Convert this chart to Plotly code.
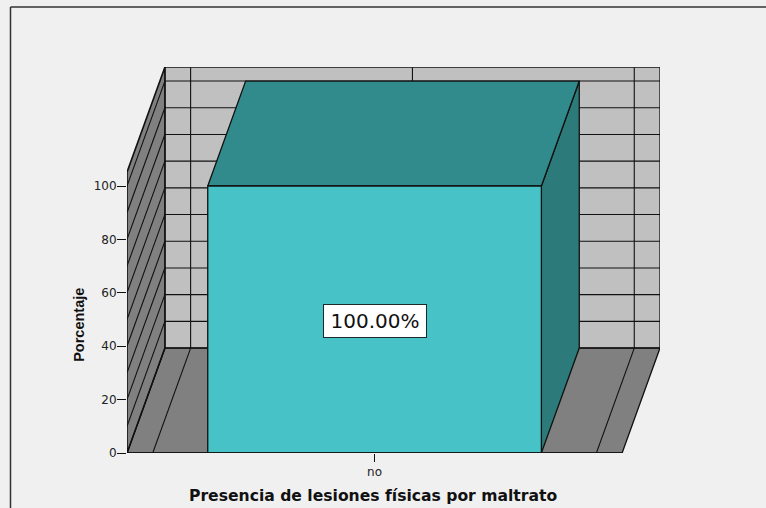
import plotly.graph_objects as go

categories = ["no"]
percentages = [100.0]
bar_labels = ["100.00%"]
y_ticks = [0, 20, 40, 60, 80, 100]
wall_lines = [0, 10, 20, 30, 40, 50, 60, 70, 80, 90, 100]
wall_top = 105.2

# oblique 3D look, one x unit is one category slot
depth_x = 0.0854
depth_y = 39.3
bar_half = 0.376
slot_half = 0.5
wall_half = 0.558

line_color = "#111111"
back_color = "#c0c0c0"
floor_color = "#808080"
front_color = "#47c3c8"
top_color = "#318b8c"
side_color = "#2c7a7a"
page_color = "#f0f0f0"
font_name = "DejaVu Sans"


def back(x, y):
    return x + depth_x, y + depth_y


def polygon(fig, points, color, width=1.3):
    xs = [p[0] for p in points] + [points[0][0]]
    ys = [p[1] for p in points] + [points[0][1]]
    fig.add_trace(go.Scatter(x=xs, y=ys, mode="lines", fill="toself", fillcolor=color,
                             line=dict(color=line_color, width=width), hoverinfo="skip",
                             showlegend=False, cliponaxis=False))


def segment(fig, p, q, width=1.1):
    fig.add_trace(go.Scatter(x=[p[0], q[0]], y=[p[1], q[1]], mode="lines",
                             line=dict(color=line_color, width=width), hoverinfo="skip",
                             showlegend=False, cliponaxis=False))


fig = go.Figure()

# back wall, floor and left wall
polygon(fig, [back(-wall_half, 0), back(wall_half, 0), back(wall_half, wall_top), back(-wall_half, wall_top)], back_color)
polygon(fig, [(-wall_half, 0), (wall_half, 0), back(wall_half, 0), back(-wall_half, 0)], floor_color)
polygon(fig, [(-wall_half, 0), back(-wall_half, 0), back(-wall_half, wall_top), (-wall_half, wall_top)], floor_color, 1.6)

for v in wall_lines:
    segment(fig, back(-wall_half, v), back(wall_half, v))
    segment(fig, (-wall_half, v), back(-wall_half, v))

for x in [-slot_half, slot_half]:
    segment(fig, back(x, 0), back(x, wall_top))
    segment(fig, (x, 0), back(x, 0))
segment(fig, back(0, 100), back(0, wall_top))

# the bar itself
for i, value in enumerate(percentages):
    left, right = i - bar_half, i + bar_half
    polygon(fig, [(right, 0), back(right, 0), back(right, value), (right, value)], side_color)
    polygon(fig, [(left, value), (right, value), back(right, value), back(left, value)], top_color)
    polygon(fig, [(left, 0), (right, 0), (right, value), (left, value)], front_color)
    fig.add_annotation(x=i, y=value / 2 - 0.5, text=bar_labels[i], showarrow=False,
                       font=dict(family=font_name, size=20, color="#111111"),
                       bgcolor="white", bordercolor="#1a2a2a", borderwidth=1, borderpad=3,
                       width=96, height=26)

segment(fig, (-wall_half, 0), (wall_half, 0), 1.6)

fig.update_xaxes(range=[-wall_half, wall_half + depth_x], tickvals=list(range(len(categories))),
                 ticktext=categories, ticks="outside", ticklen=8, tickwidth=1.3, tickcolor=line_color,
                 tickfont=dict(family=font_name, size=12, color="#222222"),
                 showgrid=False, zeroline=False, showline=False)
fig.update_yaxes(range=[0, 144.57], tickvals=y_ticks, ticks="outside", ticklen=9, tickwidth=1.3,
                 tickcolor=line_color, tickfont=dict(family=font_name, size=12, color="#222222"),
                 ticklabelstandoff=-2, showgrid=False, zeroline=False, showline=False)

fig.add_annotation(xref="paper", yref="y", x=(79 - 127) / 533, y=48, xanchor="center", yanchor="middle",
                   text="<b>Porcentaje</b>", textangle=-90, showarrow=False,
                   font=dict(family="Liberation Sans", size=14.5, color="#111111"))
fig.add_annotation(xref="x", yref="paper", x=0, xshift=-2, y=(453 - 496) / 386, xanchor="center", yanchor="middle",
                   text="<b>Presencia de lesiones físicas por maltrato</b>", showarrow=False,
                   font=dict(family=font_name, size=15.6, color="#111111"))

# outer frame only shows at the top and on the left
frame = dict(xref="paper", yref="paper", line=dict(color="#333333", width=1.5))
fig.add_shape(type="line", x0=(10.5 - 127) / 533, x1=1.2, y0=(453 - 7) / 386, y1=(453 - 7) / 386, **frame)
fig.add_shape(type="line", x0=(10.5 - 127) / 533, x1=(10.5 - 127) / 533, y0=-0.2, y1=(453 - 7) / 386, **frame)

fig.update_layout(width=766, height=508, margin=dict(l=127, r=106, t=67, b=55),
                  paper_bgcolor=page_color, plot_bgcolor=page_color, showlegend=False)

fig.write_html("out.html", post_script="document.body.style.margin = '0';", config=dict(displayModeBar=False))
